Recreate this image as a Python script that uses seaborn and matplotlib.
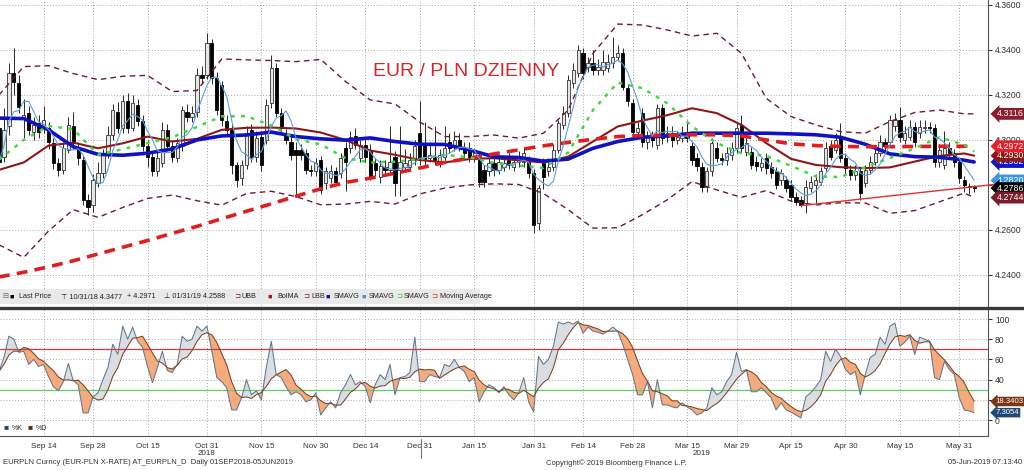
import numpy as np
import pandas as pd
import matplotlib
matplotlib.use("Agg")
import matplotlib.pyplot as plt
import matplotlib.transforms as mtransforms
from matplotlib.lines import Line2D
from matplotlib.patches import Rectangle
import seaborn as sns

sns.set_style("white")
plt.rcParams['font.family'] = ['Liberation Sans', 'DejaVu Sans']

# EURPLN dziennie, 03.09.2018 - 05.06.2019 (odczyt z wykresu)
dates = pd.bdate_range("2018-09-03", "2019-06-05")

opens = [4.3052, 4.2926, 4.3060, 4.3296, 4.3252, 4.3100, 4.3118, 4.3037, 4.3074, 4.3060,
         4.3052, 4.2985, 4.2897, 4.2867, 4.2956, 4.3060, 4.2963, 4.2912, 4.2734, 4.2712,
         4.2808, 4.2852, 4.2941, 4.3023, 4.3126, 4.3052, 4.3171, 4.3052, 4.3156, 4.3082,
         4.2971, 4.2926, 4.2860, 4.2897, 4.3045, 4.2971, 4.2919, 4.2971, 4.3126, 4.3104,
         4.3126, 4.3289, 4.3289, 4.3430, 4.3274, 4.3244, 4.3082, 4.3045, 4.2889, 4.2830,
         4.2889, 4.3045, 4.2926, 4.3015, 4.3000, 4.3163, 4.3319, 4.3119, 4.3023, 4.2993,
         4.2956, 4.2956, 4.2941, 4.2867, 4.2860, 4.2911, 4.2808, 4.2830, 4.2860, 4.2852,
         4.2963, 4.2963, 4.3018, 4.2919, 4.2978, 4.2956, 4.2897, 4.2837, 4.2882, 4.2867,
         4.2926, 4.2867, 4.2882, 4.2882, 4.2911, 4.3030, 4.2978, 4.2919, 4.2926, 4.2904,
         4.2926, 4.2993, 4.2971, 4.3000, 4.2963, 4.2963, 4.2919, 4.2911, 4.2867, 4.2860,
         4.2897, 4.2867, 4.2882, 4.2911, 4.2882, 4.2904, 4.2904, 4.2904, 4.2852, 4.2630,
         4.2897, 4.2860, 4.2882, 4.2956, 4.3067, 4.3119, 4.3252, 4.3296, 4.3385, 4.3326,
         4.3341, 4.3311, 4.3311, 4.3318, 4.3341, 4.3370, 4.3385, 4.3230, 4.3163, 4.3037,
         4.3119, 4.2993, 4.3015, 4.2978, 4.3141, 4.3015, 4.3030, 4.3000, 4.3008, 4.3030,
         4.2971, 4.2919, 4.2882, 4.2793, 4.2860, 4.2963, 4.2919, 4.2911, 4.2934, 4.2963,
         4.3067, 4.2948, 4.2948, 4.2904, 4.2882, 4.2919, 4.2882, 4.2860, 4.2822, 4.2822,
         4.2800, 4.2748, 4.2733, 4.2718, 4.2785, 4.2800, 4.2815, 4.2874, 4.2971, 4.2956,
         4.3008, 4.2919, 4.2867, 4.2845, 4.2860, 4.2808, 4.2867, 4.2904, 4.2941, 4.2993,
         4.2993, 4.3060, 4.3089, 4.3000, 4.3015, 4.3059, 4.3030, 4.3052, 4.3059, 4.3052,
         4.2904, 4.2889, 4.2963, 4.2941, 4.2904, 4.2822, 4.2795, 4.2790]
closes = [4.2904, 4.3045, 4.3296, 4.3259, 4.3148, 4.3110, 4.3044, 4.3066, 4.3037, 4.3089,
          4.2993, 4.2897, 4.2867, 4.2963, 4.3067, 4.2985, 4.2919, 4.2734, 4.2704, 4.2823,
          4.2852, 4.2941, 4.3023, 4.3134, 4.3052, 4.3171, 4.3052, 4.3163, 4.3082, 4.2971,
          4.2926, 4.2860, 4.2919, 4.3045, 4.2971, 4.2926, 4.2985, 4.3134, 4.3104, 4.3119,
          4.3289, 4.3274, 4.3430, 4.3274, 4.3134, 4.3089, 4.3045, 4.2889, 4.2823, 4.2889,
          4.3030, 4.2926, 4.3008, 4.2889, 4.3156, 4.3319, 4.3119, 4.3052, 4.3000, 4.2934,
          4.2934, 4.2934, 4.2867, 4.2860, 4.2897, 4.2778, 4.2860, 4.2860, 4.2815, 4.2919,
          4.2904, 4.3015, 4.2978, 4.2978, 4.2926, 4.2837, 4.2867, 4.2882, 4.2867, 4.2904,
          4.2808, 4.2904, 4.2897, 4.2911, 4.2971, 4.2911, 4.2911, 4.2934, 4.2911, 4.2934,
          4.2963, 4.2963, 4.3000, 4.2971, 4.2941, 4.2926, 4.2941, 4.2815, 4.2815, 4.2897,
          4.2867, 4.2904, 4.2897, 4.2889, 4.2904, 4.2919, 4.2941, 4.2852, 4.2622, 4.2785,
          4.2837, 4.2882, 4.2956, 4.3074, 4.3119, 4.3267, 4.3311, 4.3400, 4.3296, 4.3341,
          4.3311, 4.3326, 4.3348, 4.3348, 4.3370, 4.3385, 4.3237, 4.3171, 4.3037, 4.3052,
          4.2993, 4.3015, 4.3000, 4.3141, 4.3008, 4.3030, 4.3000, 4.3015, 4.3030, 4.3008,
          4.2911, 4.2882, 4.2793, 4.2860, 4.2985, 4.2919, 4.2911, 4.2941, 4.2963, 4.3052,
          4.2963, 4.2985, 4.2889, 4.2882, 4.2897, 4.2874, 4.2852, 4.2800, 4.2852, 4.2785,
          4.2748, 4.2726, 4.2711, 4.2793, 4.2815, 4.2822, 4.2860, 4.2963, 4.2926, 4.3000,
          4.2919, 4.2874, 4.2845, 4.2860, 4.2763, 4.2867, 4.2904, 4.2941, 4.2993, 4.2971,
          4.3089, 4.3089, 4.3015, 4.3030, 4.3059, 4.2993, 4.3059, 4.3059, 4.3052, 4.2904,
          4.2956, 4.2963, 4.2941, 4.2904, 4.2830, 4.2800, 4.2790, 4.2786]
highs = [4.3090, 4.3140, 4.3340, 4.3407, 4.3290, 4.3180, 4.3150, 4.3100, 4.3110, 4.3150,
         4.3080, 4.3010, 4.2920, 4.2990, 4.3100, 4.3126, 4.2990, 4.2930, 4.2760, 4.2850,
         4.2900, 4.2960, 4.3060, 4.3160, 4.3170, 4.3200, 4.3210, 4.3200, 4.3180, 4.3110,
         4.3000, 4.2950, 4.2950, 4.3080, 4.3070, 4.3000, 4.3010, 4.3150, 4.3160, 4.3150,
         4.3320, 4.3330, 4.3477, 4.3450, 4.3300, 4.3260, 4.3110, 4.3070, 4.2900, 4.2910,
         4.3060, 4.3070, 4.3040, 4.3040, 4.3180, 4.3378, 4.3340, 4.3140, 4.3050, 4.3020,
         4.2990, 4.2980, 4.2960, 4.2890, 4.2920, 4.2930, 4.2880, 4.2890, 4.2880, 4.2940,
         4.2990, 4.3040, 4.3052, 4.3000, 4.3010, 4.2980, 4.2920, 4.2910, 4.2910, 4.3060,
         4.2950, 4.3060, 4.2960, 4.2940, 4.3000, 4.3171, 4.3080, 4.2990, 4.3060, 4.2960,
         4.3060, 4.3030, 4.3040, 4.3030, 4.2990, 4.2990, 4.2960, 4.2940, 4.2890, 4.2920,
         4.2920, 4.2930, 4.2920, 4.2940, 4.2930, 4.2950, 4.2970, 4.2930, 4.2870, 4.2800,
         4.2920, 4.2920, 4.2980, 4.3090, 4.3150, 4.3290, 4.3340, 4.3420, 4.3410, 4.3370,
         4.3400, 4.3360, 4.3400, 4.3380, 4.3459, 4.3420, 4.3410, 4.3250, 4.3180, 4.3080,
         4.3140, 4.3040, 4.3040, 4.3160, 4.3160, 4.3060, 4.3060, 4.3040, 4.3060, 4.3090,
         4.2990, 4.2940, 4.2900, 4.2880, 4.3010, 4.2990, 4.2940, 4.2970, 4.2990, 4.3080,
         4.3111, 4.3010, 4.2970, 4.2930, 4.2920, 4.2940, 4.2900, 4.2880, 4.2870, 4.2840,
         4.2820, 4.2770, 4.2750, 4.2820, 4.2840, 4.2850, 4.2880, 4.2990, 4.3000, 4.3030,
         4.3074, 4.2940, 4.2890, 4.2890, 4.2880, 4.2890, 4.2930, 4.2970, 4.3020, 4.3010,
         4.3110, 4.3120, 4.3148, 4.3060, 4.3090, 4.3080, 4.3090, 4.3090, 4.3080, 4.3070,
         4.2980, 4.3040, 4.2990, 4.2960, 4.2920, 4.2840, 4.2810, 4.2800]
lows = [4.2880, 4.2900, 4.3020, 4.3200, 4.3120, 4.3010, 4.3020, 4.3000, 4.3010, 4.3030,
        4.2960, 4.2870, 4.2840, 4.2850, 4.2940, 4.2960, 4.2890, 4.2710, 4.2667, 4.2680,
        4.2790, 4.2830, 4.2920, 4.3000, 4.3030, 4.3030, 4.3030, 4.3040, 4.3060, 4.2950,
        4.2880, 4.2840, 4.2840, 4.2880, 4.2950, 4.2900, 4.2900, 4.2950, 4.3080, 4.3080,
        4.3100, 4.3250, 4.3270, 4.3250, 4.3110, 4.3060, 4.3020, 4.2850, 4.2790, 4.2800,
        4.2870, 4.2900, 4.2900, 4.2860, 4.2980, 4.3140, 4.3100, 4.3030, 4.2980, 4.2910,
        4.2756, 4.2910, 4.2850, 4.2840, 4.2840, 4.2760, 4.2780, 4.2810, 4.2800, 4.2830,
        4.2771, 4.2940, 4.2960, 4.2900, 4.2900, 4.2820, 4.2840, 4.2810, 4.2840, 4.2850,
        4.2750, 4.2750, 4.2860, 4.2860, 4.2890, 4.2890, 4.2890, 4.2900, 4.2890, 4.2880,
        4.2910, 4.2940, 4.2950, 4.2950, 4.2920, 4.2900, 4.2900, 4.2790, 4.2790, 4.2840,
        4.2840, 4.2850, 4.2860, 4.2870, 4.2860, 4.2880, 4.2880, 4.2830, 4.2588, 4.2600,
        4.2780, 4.2840, 4.2860, 4.2940, 4.3050, 4.3100, 4.3230, 4.3280, 4.3270, 4.3300,
        4.3290, 4.3290, 4.3290, 4.3300, 4.3320, 4.3350, 4.3220, 4.3150, 4.3010, 4.3010,
        4.2970, 4.2960, 4.2970, 4.2960, 4.2980, 4.2990, 4.2970, 4.2980, 4.2990, 4.2990,
        4.2890, 4.2860, 4.2770, 4.2770, 4.2840, 4.2900, 4.2890, 4.2890, 4.2910, 4.2940,
        4.2940, 4.2930, 4.2870, 4.2860, 4.2860, 4.2850, 4.2830, 4.2780, 4.2800, 4.2770,
        4.2730, 4.2710, 4.2700, 4.2675, 4.2770, 4.2720, 4.2800, 4.2860, 4.2910, 4.2940,
        4.2900, 4.2850, 4.2820, 4.2820, 4.2733, 4.2790, 4.2850, 4.2890, 4.2930, 4.2950,
        4.2980, 4.3040, 4.2990, 4.2980, 4.3000, 4.2970, 4.3010, 4.3030, 4.3030, 4.2880,
        4.2880, 4.2870, 4.2920, 4.2880, 4.2810, 4.2770, 4.2760, 4.2770]

# linie wskaznikow odczytane co 5 sesji
ma_idx = list(range(0, 196, 5)) + [197]
ubb = [4.3200, 4.3326, 4.3330, 4.3295, 4.3268, 4.3283, 4.3287, 4.3215, 4.3220, 4.3360,
       4.3356, 4.3353, 4.3348, 4.3358, 4.3260, 4.3178, 4.3160, 4.3080, 4.3015, 4.3015,
       4.3022, 4.3008, 4.3030, 4.3133, 4.3385, 4.3515, 4.3511, 4.3489, 4.3462, 4.3474,
       4.3385, 4.3185, 4.3104, 4.3067, 4.3037, 4.3030, 4.3082, 4.3122, 4.3133, 4.3116, 4.3116]
bolma = [4.2867, 4.2900, 4.2975, 4.2988, 4.2963, 4.2985, 4.3015, 4.2993, 4.3005, 4.3045,
         4.3054, 4.3055, 4.3051, 4.3033, 4.3000, 4.2953, 4.2934, 4.2911, 4.2900, 4.2915,
         4.2919, 4.2909, 4.2900, 4.2926, 4.2993, 4.3060, 4.3086, 4.3110, 4.3141, 4.3119,
         4.3067, 4.2986, 4.2916, 4.2889, 4.2879, 4.2875, 4.2878, 4.2904, 4.2929, 4.2940, 4.2930]
lbb = [4.2534, 4.2478, 4.2595, 4.2690, 4.2656, 4.2700, 4.2740, 4.2755, 4.2730, 4.2710,
       4.2762, 4.2772, 4.2748, 4.2712, 4.2715, 4.2727, 4.2715, 4.2760, 4.2786, 4.2800,
       4.2805, 4.2802, 4.2762, 4.2690, 4.2608, 4.2610, 4.2668, 4.2734, 4.2815, 4.2778,
       4.2745, 4.2775, 4.2728, 4.2711, 4.2721, 4.2720, 4.2674, 4.2686, 4.2725, 4.2764, 4.2744]
sma_blue = [4.3097, 4.3095, 4.3045, 4.2970, 4.2936, 4.2932, 4.2941, 4.2960, 4.3000, 4.3018,
            4.3022, 4.3035, 4.3015, 4.3005, 4.2999, 4.3009, 4.2993, 4.2981, 4.2980, 4.2956,
            4.2925, 4.2922, 4.2906, 4.2915, 4.2963, 4.2993, 4.3012, 4.3018, 4.3030, 4.3030,
            4.3030, 4.3030, 4.3027, 4.3023, 4.3012, 4.2981, 4.2938, 4.2926, 4.2923, 4.2910, 4.2902]
sma_green = [4.2912, 4.3000, 4.3062, 4.3048, 4.2934, 4.2959, 4.2986, 4.3012, 4.3058, 4.3105,
             4.3106, 4.3064, 4.3004, 4.2980, 4.2919, 4.2900, 4.2903, 4.2915, 4.2934, 4.2923,
             4.2898, 4.2886, 4.2876, 4.2944, 4.3133, 4.3255, 4.3230, 4.3163, 4.3060, 4.2986,
             4.2941, 4.2929, 4.2885, 4.2838, 4.2835, 4.2879, 4.2920, 4.2963, 4.3012, 4.2978, 4.2949]
ma_red = [4.2391, 4.2412, 4.2436, 4.2463, 4.2493, 4.2523, 4.2553, 4.2585, 4.2616, 4.2650,
          4.2683, 4.2716, 4.2750, 4.2783, 4.2811, 4.2830, 4.2852, 4.2875, 4.2900, 4.2919,
          4.2938, 4.2956, 4.2974, 4.2989, 4.3003, 4.3015, 4.3020, 4.3021, 4.3023, 4.3023,
          4.3018, 4.3000, 4.2983, 4.2975, 4.2971, 4.2970, 4.2970, 4.2971, 4.2972, 4.2972, 4.2972]

# linia trendu (wsparcie)
trend_idx = [162, 206]
trend_px = [4.2708, 4.2814]

# stochastyk %K
stoch_k = [48, 62, 83, 80, 67, 68, 55, 60, 53, 55, 43, 33, 29, 38, 56, 39, 35, 7, 7, 23,
           27, 40, 52, 75, 65, 93, 80, 92, 78, 72, 53, 37, 52, 68, 49, 47, 55, 83, 78, 80,
           93, 88, 93, 68, 42, 38, 32, 10, 10, 22, 40, 25, 29, 20, 52, 78, 45, 42, 33, 25,
           28, 25, 18, 20, 27, 5, 12, 18, 12, 27, 35, 45, 35, 38, 33, 17, 35, 45, 40, 55,
           25, 42, 43, 47, 82, 38, 38, 45, 43, 42, 55, 53, 60, 52, 48, 38, 42, 18, 28, 35,
           32, 27, 33, 25, 20, 27, 42, 18, 8, 63, 55, 60, 73, 97, 95, 97, 95, 98, 86, 92,
           88, 87, 85, 88, 92, 88, 75, 60, 45, 25, 25, 38, 12, 40, 15, 15, 13, 12, 17, 13,
           10, 5, 7, 12, 32, 25, 28, 38, 45, 67, 48, 50, 28, 28, 32, 27, 22, 10, 17, 10,
           8, 5, 2, 23, 27, 33, 40, 68, 58, 70, 63, 50, 45, 48, 25, 45, 62, 65, 82, 75,
           93, 96, 73, 77, 83, 65, 82, 80, 78, 42, 40, 58, 50, 45, 22, 10, 9, 7.3]

tick_dates = ["2018-09-14", "2018-09-28", "2018-10-15", "2018-10-31", "2018-11-15",
              "2018-11-30", "2018-12-14", "2018-12-31", "2019-01-15", "2019-01-31",
              "2019-02-14", "2019-02-28", "2019-03-15", "2019-03-29", "2019-04-15",
              "2019-04-30", "2019-05-15", "2019-05-31"]
tick_labels = ["Sep 14", "Sep 28", "Oct 15", "Oct 31", "Nov 15", "Nov 30", "Dec 14",
               "Dec 31", "Jan 15", "Jan 31", "Feb 14", "Feb 28", "Mar 15", "Mar 29",
               "Apr 15", "Apr 30", "May 15", "May 31"]
year_dates = ["2018-10-31", "2019-03-20"]
year_labels = ["2018", "2019"]

tag_vals = [4.3116, 4.2902, 4.2930, 4.2972, 4.2820, 4.2786, 4.2744]
tag_colors = ["#8a1c2c", "#1515c8", "#8a1a1a", "#e4202a", "#3c98e6", "#000000", "#7a1c2a"]
stoch_tag_vals = [18.3403, 7.3054]
stoch_tag_colors = ["#7a3514", "#1f4a78"]

# ---------------------------------------------------------------
df = pd.DataFrame({"open": opens, "high": highs, "low": lows, "close": closes}, index=dates)
df["i"] = np.arange(len(df))
df["sma5"] = df["close"].rolling(5, min_periods=1).mean()
ov = pd.DataFrame({"i": ma_idx, "ubb": ubb, "bolma": bolma, "lbb": lbb,
                   "blue": sma_blue, "green": sma_green, "red": ma_red})
st = pd.DataFrame({"i": df["i"].values, "k": stoch_k})
st["d"] = st["k"].rolling(5, min_periods=1).mean()

W, H = 1024, 470
fig = plt.figure(figsize=(W / 100, H / 100), dpi=100)
ax = fig.add_axes([0, 1 - 306 / H, 988 / W, 306 / H])
ax2 = fig.add_axes([0, 1 - 436 / H, 988 / W, 127 / H])

# swiece
up = df[df["close"] >= df["open"]]
dn = df[df["close"] < df["open"]]
ax.vlines(df["i"], df["low"], df["high"], color="#2a2a2a", lw=0.7, zorder=2)
ax.bar(up["i"], (up["close"] - up["open"]).clip(lower=0.00008), bottom=up["open"],
       width=0.66, color="#e6e6e6", edgecolor="#333333", lw=0.6, zorder=3)
ax.bar(dn["i"], dn["close"] - dn["open"], bottom=dn["open"], width=0.66,
       color="black", edgecolor="black", lw=0.6, zorder=3)

# wskazniki
kw = dict(ax=ax, estimator=None, legend=False)
sns.lineplot(x=ov["i"], y=ov["ubb"], color="#6e1c2c", lw=1.0, linestyle=(0, (4, 3)), zorder=4, **kw)
sns.lineplot(x=ov["i"], y=ov["lbb"], color="#6e1c2c", lw=1.0, linestyle=(0, (4, 3)), zorder=4, **kw)
sns.lineplot(x=ov["i"], y=ov["bolma"], color="#8e1818", lw=1.5, zorder=4, **kw)
sns.lineplot(x=ov["i"], y=ov["blue"], color="#1111c4", lw=2.6, zorder=5, **kw)
sns.lineplot(x=ov["i"], y=ov["red"], color="#e01e1e", lw=2.6, linestyle=(0, (3, 2)), zorder=6, **kw)
sns.lineplot(x=ov["i"], y=ov["green"], color="#3ddc3d", lw=1.8, linestyle=(0, (1.5, 2.5)), zorder=6, **kw)
sns.lineplot(x=df["i"], y=df["sma5"], color="#5b9fdc", lw=0.8, zorder=7, **kw)
ax.plot(trend_idx, trend_px, color="#e23030", lw=1.0, zorder=7, clip_on=False)

ax.text(0.472, 0.765, "EUR / PLN DZIENNY", transform=ax.transAxes, ha="center", va="center",
        fontsize=14, color="#d7262b")

# stochastyk
kw2 = dict(ax=ax2, estimator=None, legend=False)
ax2.fill_between(st["i"], st["k"], st["d"], where=st["k"] >= st["d"], interpolate=True,
                 color="#dadee3", lw=0, zorder=2)
ax2.fill_between(st["i"], st["k"], st["d"], where=st["k"] < st["d"], interpolate=True,
                 color="#f7aa7c", lw=0, zorder=2)
sns.lineplot(x=st["i"], y=st["k"], color="#62778a", lw=0.75, zorder=4, **kw2)
sns.lineplot(x=st["i"], y=st["d"], color="#7a4426", lw=0.75, zorder=4, **kw2)
ax2.axhline(70, color="#d23c3c", lw=0.9, zorder=3)
ax2.axhline(30, color="#62cf62", lw=0.9, zorder=3)

# osie
tick_pos = [dates.get_loc(pd.Timestamp(d)) for d in tick_dates]
minor_pos = [tick_pos[0] - 4.5] + [(a + b) / 2 for a, b in zip(tick_pos[:-1], tick_pos[1:])]
grid_kw = dict(color="#a8a8a8", lw=0.7, linestyle=(0, (1, 2)))
for a in (ax, ax2):
    a.set_xlim(0.2, 199.8)
    a.set_xticks(tick_pos)
    a.grid(True, **grid_kw)
    a.set_axisbelow(True)
    a.yaxis.tick_right()
    a.set_xlabel("")
    a.set_ylabel("")
    for s in ("top", "left"):
        a.spines[s].set_visible(False)
    a.spines["right"].set_color("#555555")
    a.tick_params(axis="y", length=3, pad=2, labelsize=6.2, colors="#333333", direction="out")

ax.set_ylim(4.2262, 4.3622)
ax.set_yticks(np.arange(4.24, 4.3601, 0.02))
ax.set_yticklabels([f"{v:.4f}" for v in np.arange(4.24, 4.3601, 0.02)])
ax.spines["bottom"].set_visible(False)
ax.tick_params(axis="x", length=0, labelbottom=False)

ax2.set_ylim(-15.8, 109.9)
ax2.set_yticks([0, 20, 40, 60, 80, 100])
ax2.set_yticklabels(["0", "20", "40", "60", "80", "100"])
ax2.spines["bottom"].set_color("#555555")
ax2.set_xticks(minor_pos, minor=True)
ax2.set_xticklabels(tick_labels)
ax2.tick_params(axis="x", which="both", length=3, pad=2, labelsize=5.8, colors="#333333")

xt = ax2.get_xaxis_transform()
for d, lab in zip(year_dates, year_labels):
    ax2.text(dates.get_loc(pd.Timestamp(d)), -0.135, lab, transform=xt, ha="center",
             va="center", fontsize=5.8, color="#333333")
ax2.plot([85.3, 85.3], [-0.02, -0.17], transform=xt, color="#777777", lw=0.8, clip_on=False)


def tag(axis, y, text, fc, fs=6.4, x=1.009):
    tr = mtransforms.blended_transform_factory(axis.transAxes, axis.transData)
    axis.text(x, y, text, transform=tr, fontsize=fs, color="white", va="center", ha="left",
              bbox=dict(boxstyle="larrow,pad=0.16", fc=fc, ec="none"), zorder=10, clip_on=False)


for v, c in zip(tag_vals, tag_colors):
    tag(ax, v, f"{v:.4f}", c)
for v, c in zip(stoch_tag_vals, stoch_tag_colors):
    tag(ax2, v, f"{v:.4f}", c, fs=5.6, x=1.0075)

# separator i pasek legendy
fig.add_artist(Line2D([0, 1], [1 - 307.5 / H] * 2, color="#3a3a3a", lw=2.4, zorder=6))
fig.add_artist(Rectangle((0, 1 - 304 / H), 480 / W, 15 / H, transform=fig.transFigure,
                         fc="#e9e9e9", ec="none", zorder=5))
legend_items = [(2, "⊟", "#666666"), (9, "■", "#000000"), (19, "Last Price", "#222222"),
                (61, "⊤ 10/31/18 4.3477", "#222222"), (127, "+ 4.2971", "#222222"),
                (164, "⊥ 01/31/19 4.2588", "#222222"),
                (234, "⊐", "#8a1a2a"), (242, "UBB", "#222222"),
                (268, "■", "#b01020"), (277, "BolMA", "#222222"),
                (303, "⊐", "#8a1a2a"), (311, "LBB", "#222222"),
                (326, "■", "#1010c8"), (334, "SMAVG", "#222222"),
                (361, "■", "#3c98e6"), (369, "SMAVG", "#222222"),
                (396, "⊐", "#33cc33"), (404, "SMAVG", "#222222"),
                (431, "⊐", "#d03030"), (440, "Moving Average", "#222222")]
for x, s, c in legend_items:
    fig.text(x / W, 1 - 297 / H, s, fontsize=5.2, color=c, va="center", ha="left", zorder=7)

fig.text(3 / W, 1 - 428 / H, "■", fontsize=6, color="#1f4a78", va="center", zorder=7)
fig.text(12 / W, 1 - 428 / H, "%K", fontsize=5, color="#333333", va="center", zorder=7)
fig.text(27 / W, 1 - 428 / H, "■", fontsize=6, color="#6b2a10", va="center", zorder=7)
fig.text(36 / W, 1 - 428 / H, "%D", fontsize=5, color="#333333", va="center", zorder=7)

fig.text(3 / W, 1 - 463 / H, "EURPLN Curncy (EUR-PLN X-RATE) AT_EURPLN_D  Daily 01SEP2018-05JUN2019",
         fontsize=5.5, color="#333333", va="center")
fig.text(616 / W, 1 - 463 / H, "Copyright© 2019 Bloomberg Finance L.P.", fontsize=5.5,
         color="#333333", va="center", ha="center")
fig.text(1022 / W, 1 - 463 / H, "05-Jun-2019 07:13:40", fontsize=5.5, color="#333333",
         va="center", ha="right")

fig.savefig("out.png", dpi=100)
